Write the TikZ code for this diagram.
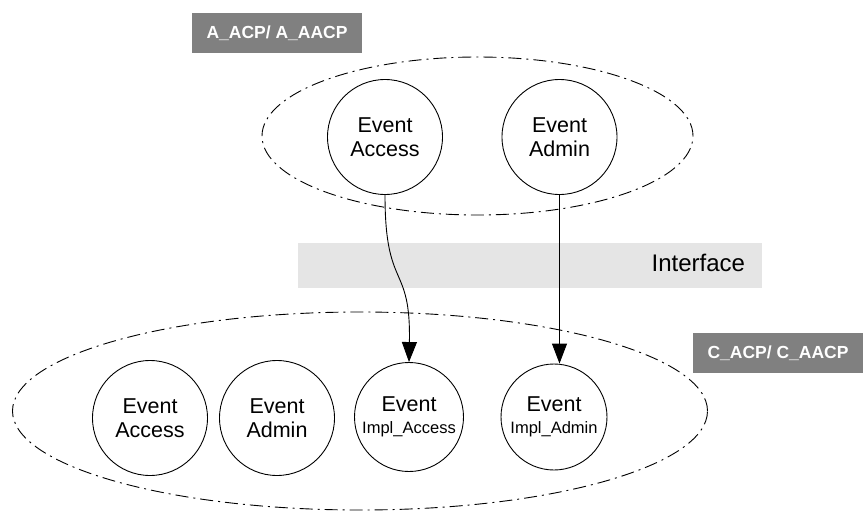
\documentclass[tikz,border=0pt]{standalone}
\usepackage{fontspec}
\setmainfont{Liberation Sans}
\usetikzlibrary{arrows.meta,shapes.geometric}

\begin{document}
\begin{tikzpicture}[x=1pt, y=-1pt,
  every node/.style = {align=center, inner sep=0pt},
  event/.style = {shape=circle, draw, line width=0.9pt,
    minimum size=115pt, font=\fontsize{21.5}{24}\selectfont}]
    \tikzstyle{group}=[shape=ellipse, draw, line width=0.9pt,
      dash pattern=on 13pt off 5pt on 2pt off 5pt]
    \tikzstyle{tag}=[fill=black!50, text=white, minimum width=170pt,
      minimum height=40pt, font=\bfseries\fontsize{17.5}{20}\selectfont]
    \tikzstyle{link}=[draw, line width=0.9pt, -{Triangle[length=20pt, width=15pt]}]
  \useasboundingbox (0,0) rectangle (863,512);
  \node [group, minimum width=431pt, minimum height=158pt] (agroup) at (477.5,136) {};
  \node [group, minimum width=695pt, minimum height=198pt] (cgroup) at (360,411) {};
  \node [fill=black!10, minimum width=464pt, minimum height=45pt] (iface) at (530,265.5) {};
  \node [anchor=east, font=\fontsize{24}{28}\selectfont] (ifacelabel)
    at ([xshift=-17pt, yshift=3pt]iface.east) {Interface};
  \node [tag] (atag) at (277,33) {A\_ACP/ A\_AACP};
  \node [tag] (ctag) at (778,353) {C\_ACP/ C\_AACP};
  \node [event] (aaccess) at (385,137) {Event\\Access};
  \node [event] (aadmin) at (559.5,137) {Event\\Admin};
  \node [event] (caccess) at (150,418) {Event\\Access};
  \node [event] (cadmin) at (277,418) {Event\\Admin};
  \node [event, minimum size=109pt] (cimplaccess) at (409,417)
    {Event\\[-2pt]{\fontsize{16.5}{18}\selectfont Impl\_Access}};
  \node [event, minimum size=106pt] (cimpladmin) at (554,417)
    {Event\\[-2pt]{\fontsize{16.5}{18}\selectfont Impl\_Admin}};
  \draw [link] (aaccess.south) .. controls (385,292) and (411,262) .. (cimplaccess.north);
  \draw [link] (aadmin.south) -- (aadmin.south |- cimpladmin.north);
\end{tikzpicture}
\end{document}
